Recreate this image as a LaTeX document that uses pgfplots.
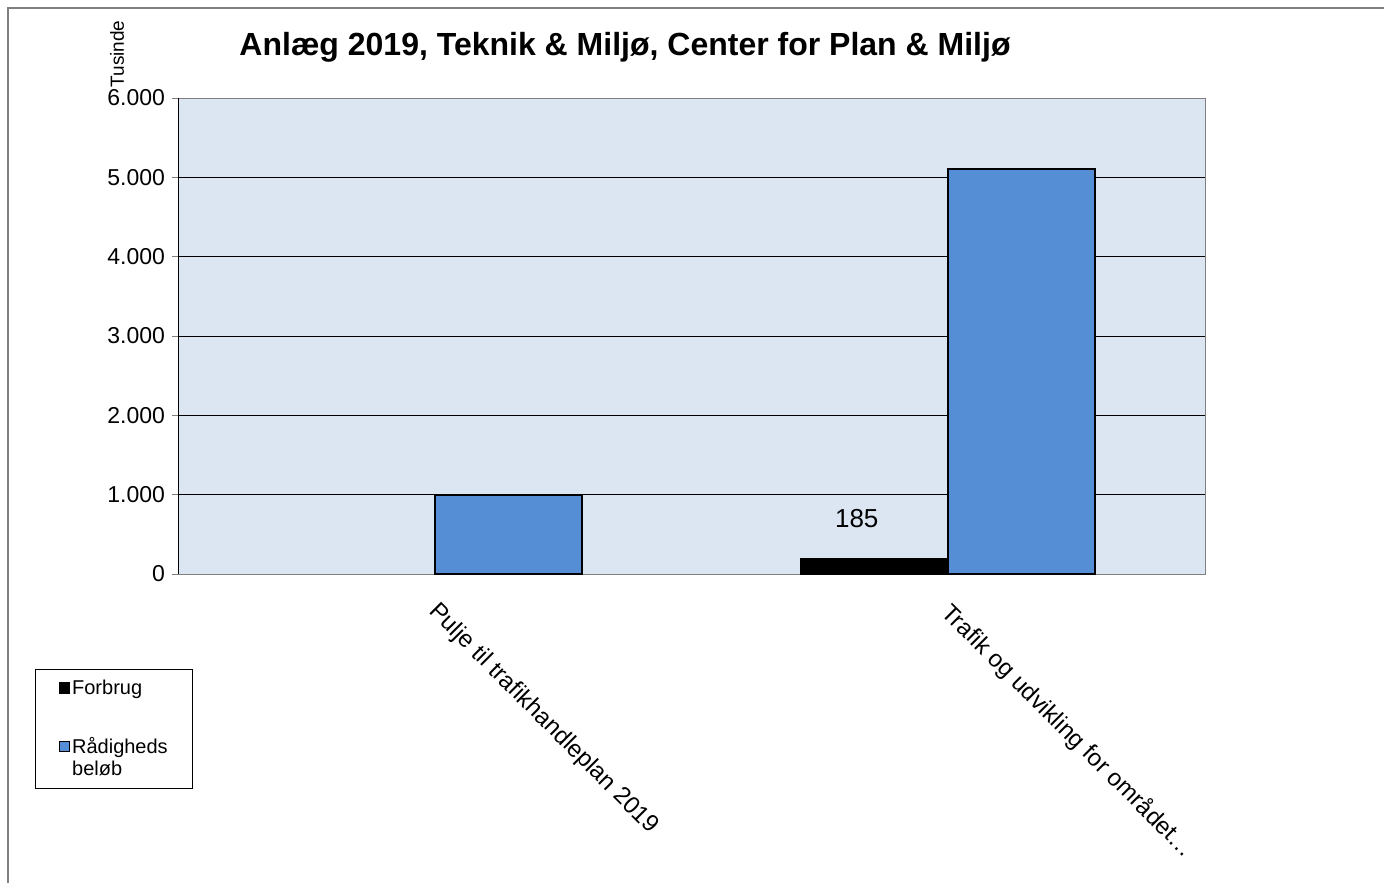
\documentclass[border=0pt]{standalone}
\usepackage{pgfplots}
\pgfplotsset{compat=1.18}
\usepackage{fontspec}
\setmainfont{Liberation Sans}
\definecolor{plotbg}{RGB}{220,230,242}
\definecolor{barblue}{RGB}{85,142,213}
\definecolor{framegray}{RGB}{128,128,128}
\begin{document}
\begin{tikzpicture}
\useasboundingbox (0,0) rectangle (692pt,441.5pt);
% outer chart frame (only top and left edges visible)
\draw[framegray, line width=0.6pt] (4pt,0) -- (4pt,437.5pt) -- (692pt,437.5pt);
\begin{axis}[
    at={(89pt,154.5pt)}, anchor=south west,
    scale only axis, width=513.5pt, height=238pt,
    ybar=0pt, bar width=73.5pt,
    xmin=-0.5, xmax=1.5, ymin=0, ymax=6000,
    axis background/.style={fill=plotbg},
    axis line style={draw=framegray},
    xtick={0,1},
    xticklabels={Pulje til trafikhandleplan 2019, Trafik og udvikling for området…},
    x tick label style={rotate=-45, anchor=north west, font=\fontsize{12}{14}\selectfont, inner sep=1pt, yshift=-4pt, xshift=8pt},
    xtick style={draw=none},
    extra x ticks={-0.5,0.5,1.5},
    extra x tick labels={},
    extra x tick style={tick style={draw=framegray}, grid=none},
    ytick={0,1000,...,6000},
    ymajorgrids, grid style={black, line width=0.5pt},
    y tick label style={font=\fontsize{11.5}{13}\selectfont},
    ytick style={draw=framegray},
    tick align=outside, tick pos=left, major tick length=3pt,
    /pgf/number format/.cd, 1000 sep={.}, assume math mode=true, /pgfplots/.cd,
    legend style={at={(-0.1392,-0.1996)}, anchor=north west,
        draw=black, line width=0.5pt, inner xsep=11.5pt, inner ysep=4pt,
        row sep=18pt, font=\fontsize{10}{11}\selectfont,
        nodes={align=left, inner sep=1pt}},
    legend cell align=left,
]
\addplot[draw=black, fill=black, line width=1pt,
    legend image code/.code={\draw[black, fill=black, line width=0.6pt] (0pt,-2.6pt) rectangle (5.2pt,2.6pt);},
    nodes near coords,
    every node near coord/.append style={font=\fontsize{13}{15}\selectfont, yshift=12pt, xshift=-9pt, black}]
    coordinates {(1,185)};
\addplot[draw=black, fill=barblue, line width=1pt,
    legend image code/.code={\draw[black, fill=barblue, line width=0.6pt] (0pt,2.9pt) rectangle (5.2pt,8.1pt);}]
    coordinates {(0,1000) (1,5100)};
\legend{Forbrug, Rådigheds\\beløb}
\draw[black, line width=0.8pt] (rel axis cs:0,0) -- (rel axis cs:0,1);
\end{axis}
\node[font=\bfseries\fontsize{16}{18}\selectfont] at (312.5pt,418pt) {Anlæg 2019, Teknik \& Miljø, Center for Plan \& Miljø};
\node[rotate=90, font=\fontsize{9.5}{11}\selectfont] at (58.5pt,414.5pt) {Tusinde};
\end{tikzpicture}
\end{document}
